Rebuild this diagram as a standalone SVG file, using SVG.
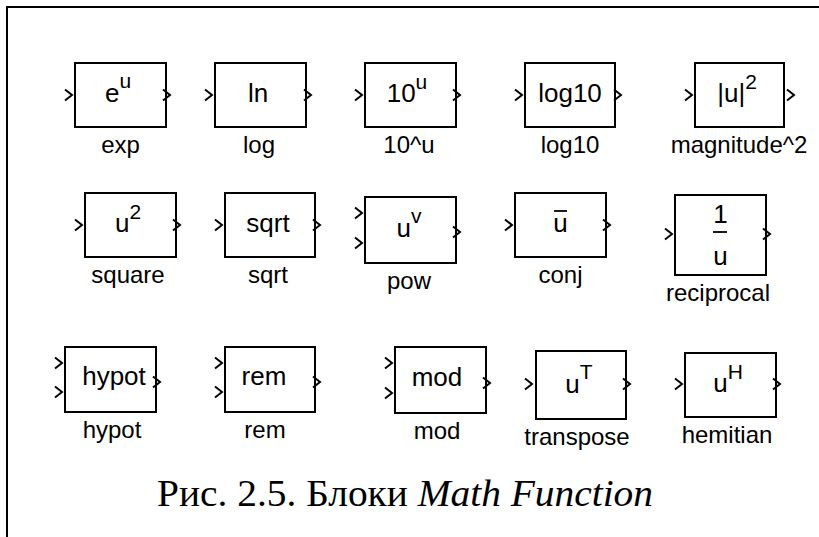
<svg xmlns="http://www.w3.org/2000/svg" xmlns:xlink="http://www.w3.org/1999/xlink" width="819" height="537" viewBox="0 0 819 537">
<style>
.box{fill:#fff;stroke:#000;stroke-width:2}
.port{fill:none;stroke:#000;stroke-width:2;stroke-linejoin:miter}
.in{font-family:"Liberation Sans",Arial,sans-serif;font-size:26px;fill:#000;text-anchor:middle}
.lbl{font-family:"Liberation Sans",Arial,sans-serif;font-size:24px;fill:#000;text-anchor:middle}
.sup{font-size:21px}
.frame{fill:none;stroke:#000;stroke-width:2}
.cap{font-family:"Liberation Serif","Times New Roman",serif;font-size:37px;fill:#000;text-anchor:middle}
</style>
<defs>
<path id="chev" class="port" d="M0,-5.5 L7,0 L0,5.5"/>
</defs>
<path class="frame" d="M7,537 V7 H819"/>
<g id="connectors"/>

<g id="exp">
<rect class="box" x="75" y="63" width="91" height="64"/>
<use xlink:href="#chev" x="65" y="95"/><use xlink:href="#chev" x="163" y="95"/>
<text class="in" x="118" y="102">e<tspan class="sup" font-size="18px" dy="-14">u</tspan></text>
<text class="lbl" x="120.5" y="153">exp</text>
</g>
<g id="log">
<rect class="box" x="215" y="63" width="91" height="64"/>
<use xlink:href="#chev" x="205" y="95"/><use xlink:href="#chev" x="304" y="95"/>
<text class="in" x="258" y="102">ln</text>
<text class="lbl" x="259" y="153">log</text>
</g>
<g id="pow10">
<rect class="box" x="365" y="63" width="91" height="64"/>
<use xlink:href="#chev" x="355" y="95"/><use xlink:href="#chev" x="453" y="95"/>
<text class="in" x="407" y="102">10<tspan class="sup" font-size="19px" dy="-13">u</tspan></text>
<text class="lbl" x="409" y="153">10^u</text>
</g>
<g id="log10">
<rect class="box" x="525" y="63" width="90" height="64"/>
<use xlink:href="#chev" x="515" y="95"/><use xlink:href="#chev" x="614" y="95"/>
<text class="in" x="570" y="102">log10</text>
<text class="lbl" x="570" y="153">log10</text>
</g>
<g id="magnitude2">
<rect class="box" x="695" y="63" width="89" height="64"/>
<use xlink:href="#chev" x="685" y="95"/><use xlink:href="#chev" x="787" y="95"/>
<text class="in" x="737" y="102">|u|<tspan class="sup" dy="-13">2</tspan></text>
<text class="lbl" x="739" y="153">magnitude^2</text>
</g>

<g id="square">
<rect class="box" x="85" y="193" width="91" height="64"/>
<use xlink:href="#chev" x="75" y="225"/><use xlink:href="#chev" x="173" y="225"/>
<text class="in" x="128" y="232">u<tspan class="sup" dy="-13">2</tspan></text>
<text class="lbl" x="128" y="283">square</text>
</g>
<g id="sqrt">
<rect class="box" x="225" y="193" width="90" height="64"/>
<use xlink:href="#chev" x="215" y="225"/><use xlink:href="#chev" x="313" y="225"/>
<text class="in" x="268" y="232">sqrt</text>
<text class="lbl" x="268" y="283">sqrt</text>
</g>
<g id="pow">
<rect class="box" x="365" y="197" width="91" height="66"/>
<use xlink:href="#chev" x="355" y="213"/><use xlink:href="#chev" x="355" y="243"/><use xlink:href="#chev" x="453" y="232"/>
<text class="in" x="409" y="237">u<tspan class="sup" dy="-14">v</tspan></text>
<text class="lbl" x="409" y="289">pow</text>
</g>
<g id="conj">
<rect class="box" x="515" y="193" width="91" height="64"/>
<use xlink:href="#chev" x="505" y="225"/><use xlink:href="#chev" x="603" y="225"/>
<text class="in" x="560.5" y="232">u</text>
<line x1="554" y1="211" x2="567" y2="211" stroke="#000" stroke-width="1.8"/>
<text class="lbl" x="560.5" y="283">conj</text>
</g>
<g id="reciprocal">
<rect class="box" x="675" y="195" width="91" height="80"/>
<use xlink:href="#chev" x="665" y="234"/><use xlink:href="#chev" x="763" y="234"/>
<text class="in" x="720.5" y="223">1</text>
<line x1="713" y1="232" x2="727" y2="232" stroke="#000" stroke-width="1.8"/>
<text class="in" x="720.5" y="265">u</text>
<text class="lbl" x="718" y="301">reciprocal</text>
</g>

<g id="hypot">
<rect class="box" x="65" y="347" width="91" height="65"/>
<use xlink:href="#chev" x="55" y="363"/><use xlink:href="#chev" x="55" y="392"/><use xlink:href="#chev" x="153" y="382"/>
<text class="in" x="114" y="385">hypot</text>
<text class="lbl" x="112" y="438">hypot</text>
</g>
<g id="rem">
<rect class="box" x="225" y="347" width="90" height="65"/>
<use xlink:href="#chev" x="215" y="363"/><use xlink:href="#chev" x="215" y="392"/><use xlink:href="#chev" x="313" y="382"/>
<text class="in" x="264" y="385">rem</text>
<text class="lbl" x="265" y="438">rem</text>
</g>
<g id="mod">
<rect class="box" x="395" y="347" width="91" height="66"/>
<use xlink:href="#chev" x="385" y="363"/><use xlink:href="#chev" x="385" y="393"/><use xlink:href="#chev" x="483" y="383"/>
<text class="in" x="437" y="386">mod</text>
<text class="lbl" x="437" y="439">mod</text>
</g>
<g id="transpose">
<rect class="box" x="536" y="351" width="90" height="68"/>
<use xlink:href="#chev" x="525" y="384"/><use xlink:href="#chev" x="623" y="384"/>
<text class="in" x="579" y="393">u<tspan class="sup" dy="-14">T</tspan></text>
<text class="lbl" x="577" y="445">transpose</text>
</g>
<g id="hemitian">
<rect class="box" x="685" y="353" width="91" height="64"/>
<use xlink:href="#chev" x="675" y="384"/><use xlink:href="#chev" x="773" y="384"/>
<text class="in" x="728" y="392">u<tspan class="sup" dy="-13">H</tspan></text>
<text class="lbl" x="727" y="443">hemitian</text>
</g>

<text class="cap" x="405" y="506" textLength="496" lengthAdjust="spacingAndGlyphs">Рис. 2.5. Блоки <tspan font-style="italic">Math Function</tspan></text>
</svg>
